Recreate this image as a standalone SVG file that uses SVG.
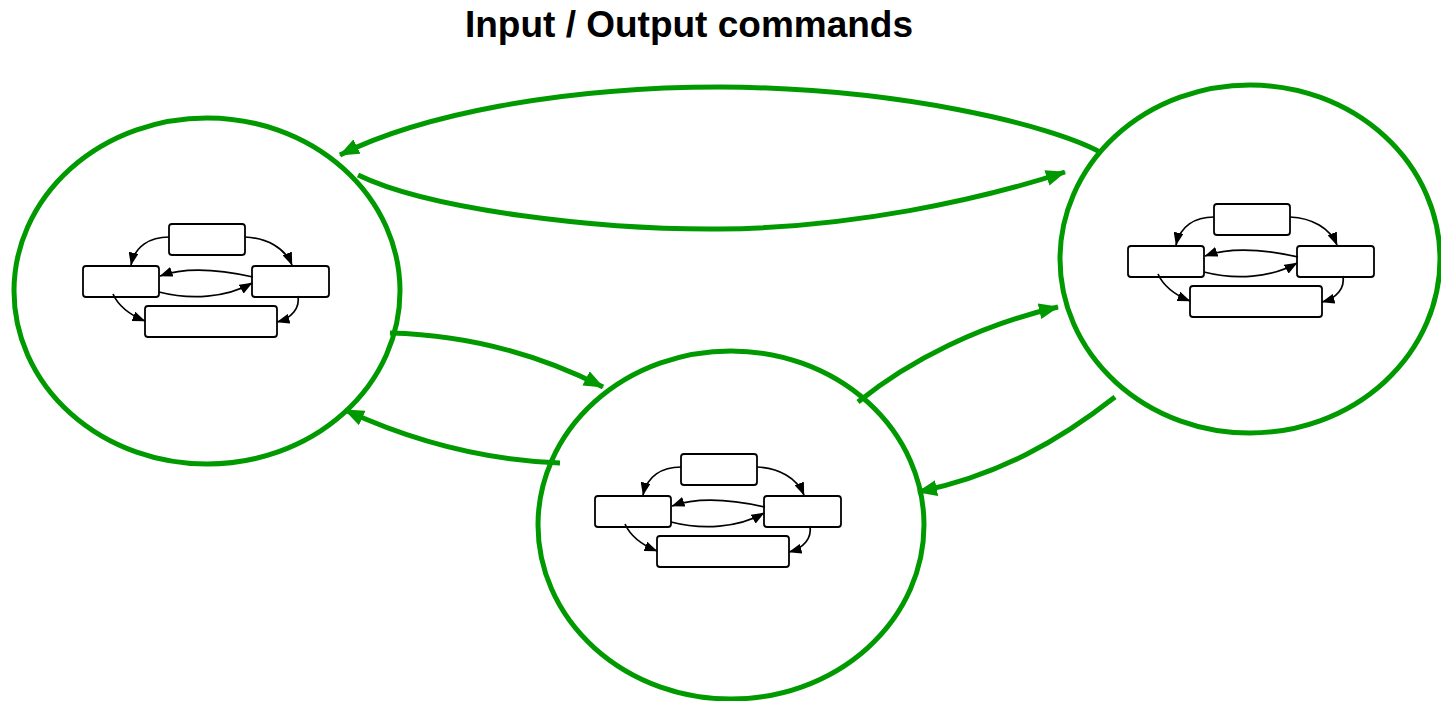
<svg xmlns="http://www.w3.org/2000/svg" width="1441" height="701" viewBox="0 0 1441 701">
<style>
.state{fill:none;stroke:#009a00;stroke-width:5}
.flow{fill:none;stroke:#009a00;stroke-width:5;marker-end:url(#ga)}
.box{fill:#fff;stroke:#000;stroke-width:1.8}
.edge{fill:none;stroke:#000;stroke-width:1.7;marker-end:url(#ba)}
.title{font-family:"Liberation Sans",Arial,sans-serif;font-weight:bold;font-size:37px;fill:#000}
</style>
<defs>
<marker id="ga" markerUnits="userSpaceOnUse" markerWidth="20" markerHeight="16" refX="19" refY="8" orient="auto" viewBox="0 0 20 16">
<path d="M0,0 L20,8 L0,16 z" fill="#009a00"/>
</marker>
<marker id="ba" markerUnits="userSpaceOnUse" markerWidth="13" markerHeight="10" refX="12.5" refY="5" orient="auto" viewBox="0 0 13 10">
<path d="M0,0 L13,5 L0,10 z" fill="#000"/>
</marker>
<g id="mini">
<rect class="box" x="169" y="224" width="76" height="31" rx="3"/>
<rect class="box" x="83" y="266" width="76" height="31" rx="3"/>
<rect class="box" x="252" y="266" width="77" height="31" rx="3"/>
<rect class="box" x="145" y="306" width="132" height="31" rx="3"/>
<path class="edge" d="M169,237 C150,237 135,246 131,265"/>
<path class="edge" d="M245,237 C267,238 285,248 292,265"/>
<path class="edge" d="M253,277 C222,270 188,266 160,276"/>
<path class="edge" d="M159,292 C190,300 226,298 252,283"/>
<path class="edge" d="M113,294 C118,305 130,315 145,321"/>
<path class="edge" d="M298,296 C300,308 292,318 277,322"/>
</g>
</defs>
<text class="title" x="689" y="37" text-anchor="middle">Input / Output commands</text>
<g id="state-left">
<ellipse class="state" cx="207" cy="291" rx="193" ry="173"/>
<use href="#mini"/>
</g>
<g id="state-middle">
<ellipse class="state" cx="731" cy="525" rx="193" ry="174"/>
<use href="#mini" transform="translate(512,230)"/>
</g>
<g id="state-right">
<ellipse class="state" cx="1250" cy="259" rx="190" ry="174"/>
<use href="#mini" transform="translate(1045,-20)"/>
</g>
<g id="connectors">
<path class="flow" d="M1100,152 C1050,125 900,88 720,87 C560,87 420,115 340,155"/>
<path class="flow" d="M358,175 C430,210 600,230 720,229 C850,228 980,200 1065,172"/>
<path class="flow" d="M390,333 C470,335 540,355 603,387"/>
<path class="flow" d="M560,463 C480,460 410,440 345,410"/>
<path class="flow" d="M858,402 C910,360 980,325 1058,307"/>
<path class="flow" d="M1115,397 C1060,440 1000,475 918,492"/>
</g>
</svg>
